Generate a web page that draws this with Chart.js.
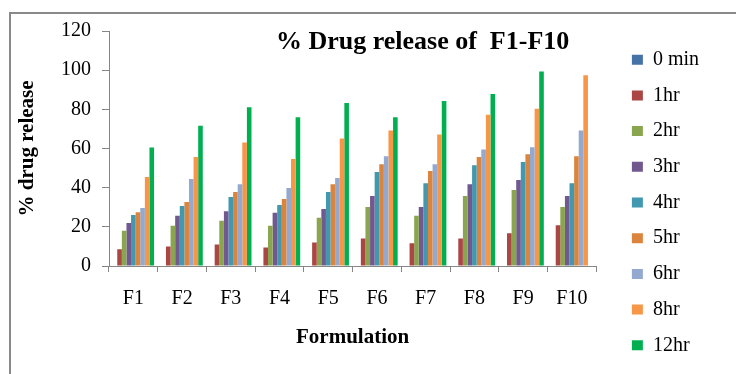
<!DOCTYPE html>
<html>
<head>
<meta charset="utf-8">
<script src="https://cdn.jsdelivr.net/npm/chart.js@4"></script>
<style>
  html, body { margin: 0; padding: 0; background: #fff; }
  #wrap { position: relative; width: 736px; height: 374px; }
</style>
</head>
<body>
<div id="wrap"><canvas id="releaseChart"></canvas></div>
<script>
const formulations = ['F1', 'F2', 'F3', 'F4', 'F5', 'F6', 'F7', 'F8', 'F9', 'F10'];
const timeLabels = ['0 min', '1hr', '2hr', '3hr', '4hr', '5hr', '6hr', '8hr', '12hr'];
const yTicks = [0, 20, 40, 60, 80, 100, 120];

const release0min = [0, 0, 0, 0, 0, 0, 0, 0, 0, 0];
const release1hr  = [8.5, 10, 11, 9.5, 12, 14, 11.6, 14, 16.7, 20.8];
const release2hr  = [18, 20.6, 23.1, 20.6, 24.7, 30.1, 25.7, 35.7, 38.8, 30.1];
const release3hr  = [22, 25.7, 28, 27.2, 29.1, 35.7, 30.1, 41.8, 43.9, 35.7];
const release4hr  = [26, 30.6, 35.2, 31.1, 37.8, 48, 42.3, 51.5, 53.1, 42.3];
const release5hr  = [27.5, 32.7, 37.8, 34.2, 41.8, 52, 48.5, 55.6, 57.1, 56.1];
const release6hr  = [29.6, 44.4, 41.8, 39.8, 44.9, 56.1, 52, 59.5, 60.7, 69.2];
const release8hr  = [45.4, 55.6, 63.1, 54.6, 65.1, 69.2, 67.2, 77.2, 80.3, 97.4];
const release12hr = [60.5, 71.6, 81.1, 76, 83.2, 76, 84.2, 87.8, 99.3, null];

const seriesValues = [release0min, release1hr, release2hr, release3hr, release4hr,
                      release5hr, release6hr, release8hr, release12hr];
const seriesColors = ['#4572A7', '#AA4643', '#89A54E', '#71588F', '#4198AF',
                      '#DB843D', '#93A9CF', '#F79646', '#00B050'];

const serif = "'Liberation Serif', 'Times New Roman', serif";

// grey frame along top and left edge, like the pasted Excel chart
const framePlugin = {
    id: 'frame',
    beforeDraw(chart) {
        const ctx = chart.ctx;
        ctx.save();
        ctx.fillStyle = '#fff';
        ctx.fillRect(0, 0, chart.width, chart.height);
        ctx.fillStyle = '#898989';
        ctx.fillRect(9, 12, chart.width - 9, 2);
        ctx.fillRect(9, 12, 2, chart.height - 12);
        ctx.restore();
    }
};

// title sits inside the plot area
const innerTitle = {
    id: 'innerTitle',
    afterDraw(chart) {
        const ctx = chart.ctx;
        const area = chart.chartArea;
        ctx.save();
        ctx.font = "bold 26px " + serif;
        ctx.fillStyle = '#000';
        ctx.textAlign = 'center';
        ctx.textBaseline = 'middle';
        ctx.fillText('% Drug release of  F1-F10', (area.left + area.right) / 2 + 70, area.top + 11);
        ctx.restore();
    }
};

const datasets = timeLabels.map(function(label, i) {
    return {
        label: label,
        data: seriesValues[i],
        backgroundColor: seriesColors[i],
        borderWidth: 0,
        barPercentage: 1,
        categoryPercentage: 0.85
    };
});

new Chart(document.getElementById('releaseChart'), {
    type: 'bar',
    data: { labels: formulations, datasets: datasets },
    options: {
        responsive: true,
        maintainAspectRatio: false,
        animation: false,
        layout: { padding: { top: 31, left: 12, right: 27, bottom: 0 } },
        plugins: {
            tooltip: { enabled: false },
            legend: {
                position: 'right',
                labels: {
                    color: '#000',
                    font: { family: serif, size: 20 },
                    boxWidth: 11,
                    boxHeight: 10,
                    padding: 15.7
                }
            }
        },
        scales: {
            x: {
                grid: { display: true, drawOnChartArea: false, offset: true, color: '#868686', tickLength: 6 },
                border: { color: '#868686' },
                ticks: { color: '#000', font: { family: serif, size: 20 }, padding: 15, maxRotation: 0 },
                title: {
                    display: true, text: 'Formulation', color: '#000',
                    font: { family: serif, size: 21, weight: 'bold' },
                    padding: { top: 4, bottom: 24 }
                },
                afterFit(scale) { scale.height = 108; }
            },
            y: {
                min: 0,
                max: 120,
                afterBuildTicks(scale) { scale.ticks = yTicks.map(v => ({ value: v })); },
                grid: { display: true, drawOnChartArea: false, color: '#868686', tickLength: 7 },
                border: { color: '#868686' },
                ticks: { color: '#000', font: { family: serif, size: 20 }, padding: 11 },
                title: {
                    display: true, text: '% drug release', color: '#000',
                    font: { family: serif, size: 21, weight: 'bold' },
                    padding: { top: 3, bottom: 0 }
                },
                afterFit(scale) { scale.width = 97; }
            },
            gap: {
                position: 'right',
                display: true,
                grid: { display: false },
                border: { display: false },
                ticks: { display: false },
                afterFit(scale) { scale.width = 20; }
            }
        }
    },
    plugins: [framePlugin, innerTitle]
});
</script>
</body>
</html>
